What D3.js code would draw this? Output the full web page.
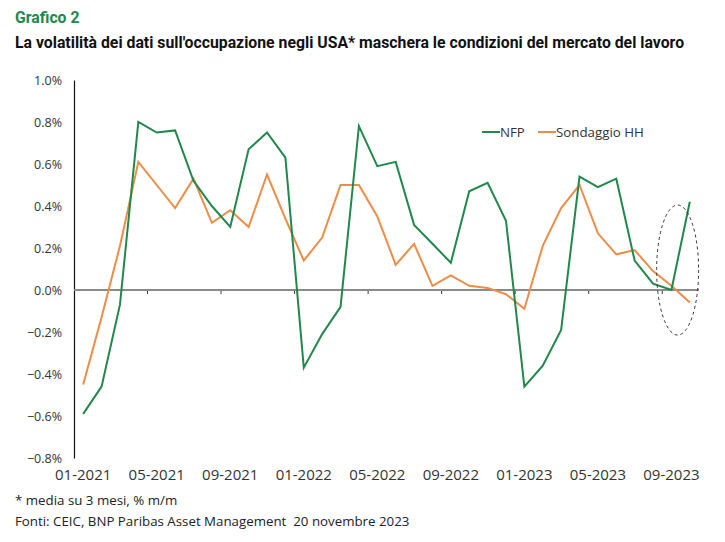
<!DOCTYPE html>
<html><head><meta charset="utf-8">
<script src="https://cdn.jsdelivr.net/npm/d3@7"></script>
<style>
html,body{margin:0;padding:0;background:#fff;}
svg{display:block;}
</style></head>
<body>
<script>
const months = ["01-2021","02-2021","03-2021","04-2021","05-2021","06-2021","07-2021","08-2021","09-2021","10-2021","11-2021","12-2021",
"01-2022","02-2022","03-2022","04-2022","05-2022","06-2022","07-2022","08-2022","09-2022","10-2022","11-2022","12-2022",
"01-2023","02-2023","03-2023","04-2023","05-2023","06-2023","07-2023","08-2023","09-2023","10-2023"];
const nfp = [-0.59,-0.46,-0.07,0.80,0.75,0.76,0.52,0.40,0.30,0.67,0.75,0.63,
-0.37,-0.21,-0.08,0.78,0.59,0.61,0.31,0.22,0.13,0.47,0.51,0.33,
-0.46,-0.36,-0.19,0.54,0.49,0.53,0.14,0.03,0.00,0.42];
const hh = [-0.45,-0.13,0.21,0.61,0.50,0.39,0.53,0.32,0.38,0.30,0.55,0.34,
0.14,0.25,0.50,0.50,0.35,0.12,0.22,0.02,0.07,0.02,0.01,-0.02,
-0.09,0.21,0.39,0.50,0.27,0.17,0.19,0.09,0.02,-0.06];
const yTicks = [-0.8,-0.6,-0.4,-0.2,0,0.2,0.4,0.6,0.8,1.0];
const xLabels = ["01-2021","05-2021","09-2021","01-2022","05-2022","09-2022","01-2023","05-2023","09-2023"];
const seriesNames = ["NFP","Sondaggio HH"];
const title1 = "Grafico 2";
const title2 = "La volatilità dei dati sull'occupazione negli USA* maschera le condizioni del mercato del lavoro";
const note1 = "* media su 3 mesi, % m/m";
const note2 = "Fonti: CEIC, BNP Paribas Asset Management  20 novembre 2023";

const W = 725, H = 542;
const GREEN = "#21874b", ORANGE = "#ec8d47";
const svg = d3.select("body").append("svg").attr("width", W).attr("height", H);

const x = d3.scaleBand().domain(months).range([74, 699]).padding(0);
const y = d3.scaleLinear().domain([-0.8, 1.0]).range([458, 80]);
const cx = d => x(d) + x.bandwidth() / 2;

const condensed = "'Roboto','DejaVu Sans Condensed',sans-serif";
const sans = "'Open Sans','Noto Sans',sans-serif";

svg.append("text").attr("x", 15).attr("y", 23).text(title1)
  .attr("font-family", condensed).attr("font-weight", "bold").attr("font-size", 15.8).attr("fill", GREEN);
svg.append("text").attr("x", 15).attr("y", 48).text(title2)
  .attr("font-family", condensed).attr("font-weight", "bold").attr("font-size", 15.8).attr("fill", "#111");

// y axis labels
const yAxis = d3.axisLeft(y).tickValues(yTicks).tickSize(0).tickPadding(12)
  .tickFormat(d => d3.format(".1f")(d) + "%");
const gy = svg.append("g").attr("transform", "translate(74,0)").call(yAxis);
gy.select(".domain").attr("stroke", "#111").attr("stroke-width", 1.2);
gy.selectAll("text").attr("font-family", sans).attr("font-size", 12.5).attr("fill", "#333");

// zero line with ticks
const gx = svg.append("g").attr("transform", `translate(0,${y(0)})`);
gx.append("line").attr("x1", 74).attr("x2", 699).attr("y1", 0).attr("y2", 0)
  .attr("stroke", "#8a8a8a").attr("stroke-width", 2);
gx.selectAll("line.tk").data(d3.range(4, months.length, 4)).enter().append("line")
  .attr("x1", i => x(months[i])).attr("x2", i => x(months[i]))
  .attr("y1", 1).attr("y2", 4).attr("stroke", "#333").attr("stroke-width", 1);

// x labels
svg.append("g").selectAll("text").data(xLabels).enter().append("text")
  .attr("x", d => cx(d)).attr("y", 480).attr("text-anchor", "middle")
  .attr("font-family", sans).attr("font-size", 15).attr("fill", "#333").text(d => d);

// lines
const line = d3.line().x((d, i) => cx(months[i])).y(d => y(d));
svg.append("path").datum(hh).attr("d", line).attr("fill", "none")
  .attr("stroke", ORANGE).attr("stroke-width", 2);
svg.append("path").datum(nfp).attr("d", line).attr("fill", "none")
  .attr("stroke", GREEN).attr("stroke-width", 2);

// ellipse annotation
const ex = (cx(months[32]) + cx(months[33])) / 2 - 3;
svg.append("ellipse").attr("cx", ex).attr("cy", y(0.095)).attr("rx", 21).attr("ry", 65)
  .attr("fill", "none").attr("stroke", "#333").attr("stroke-width", 1).attr("stroke-dasharray", "3,3");

// legend
const leg = [{n: seriesNames[0], c: GREEN, x: 482}, {n: seriesNames[1], c: ORANGE, x: 538}];
const lg = svg.append("g");
leg.forEach(l => {
  lg.append("line").attr("x1", l.x).attr("x2", l.x + 18).attr("y1", 132).attr("y2", 132)
    .attr("stroke", l.c).attr("stroke-width", 2);
  lg.append("text").attr("x", l.x + 18).attr("y", 137).text(l.n)
    .attr("font-family", sans).attr("font-size", 13.3).attr("fill", "#333");
});

// notes
svg.append("text").attr("x", 15).attr("y", 505).text(note1).style("white-space", "pre")
  .attr("font-family", sans).attr("font-size", 13.3).attr("fill", "#222");
svg.append("text").attr("x", 15).attr("y", 526).text(note2).style("white-space", "pre")
  .attr("font-family", sans).attr("font-size", 13.3).attr("fill", "#222");
</script>
</body></html>
